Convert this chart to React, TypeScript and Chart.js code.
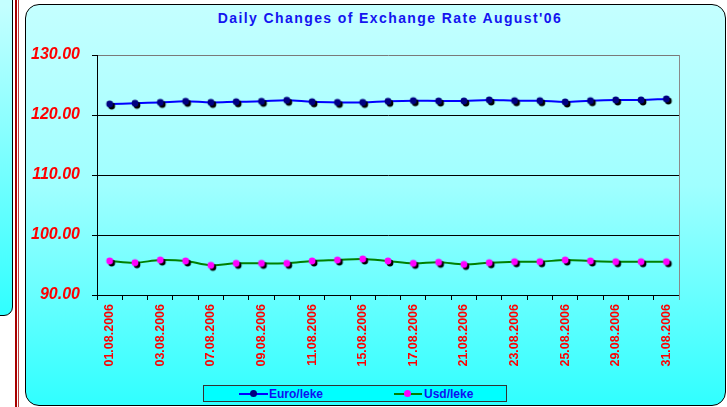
import React, { useEffect, useRef } from "react";
import { Chart, registerables } from "chart.js";

Chart.register(...registerables);

const dates = [
  "01.08.2006", "02.08.2006", "03.08.2006", "04.08.2006", "07.08.2006", "08.08.2006",
  "09.08.2006", "10.08.2006", "11.08.2006", "14.08.2006", "15.08.2006", "16.08.2006",
  "17.08.2006", "18.08.2006", "21.08.2006", "22.08.2006", "23.08.2006", "24.08.2006",
  "25.08.2006", "28.08.2006", "29.08.2006", "30.08.2006", "31.08.2006",
];

const euroLeke = [
  121.83, 121.95, 122.1, 122.28, 122.1, 122.2, 122.28, 122.45, 122.2, 122.1, 122.1, 122.28,
  122.38, 122.33, 122.33, 122.5, 122.38, 122.38, 122.17, 122.38, 122.5, 122.5, 122.67,
];

const usdLeke = [
  95.67, 95.38, 95.83, 95.67, 94.94, 95.28, 95.28, 95.28, 95.67, 95.83, 96.0, 95.67,
  95.28, 95.45, 95.1, 95.38, 95.55, 95.55, 95.83, 95.67, 95.55, 95.55, 95.55,
];

const yTicks = [90, 100, 110, 120, 130];

const TITLE = "Daily Changes of Exchange Rate August'06";
const FONT = '"Liberation Sans", Arial, sans-serif';

function makeMarker(color: string): HTMLCanvasElement {
  const c = document.createElement("canvas");
  c.width = 16;
  c.height = 16;
  const ctx = c.getContext("2d")!;
  ctx.fillStyle = "#000000";
  ctx.beginPath();
  ctx.arc(10, 10, 3.4, 0, Math.PI * 2);
  ctx.fill();
  ctx.fillStyle = color;
  ctx.beginPath();
  ctx.arc(8, 8, 3.4, 0, Math.PI * 2);
  ctx.fill();
  return c;
}

const borderPlugin = {
  id: "plotBorder",
  afterDraw(chart: any) {
    const { ctx, chartArea } = chart;
    ctx.save();
    ctx.strokeStyle = "#8a8a8a";
    ctx.lineWidth = 1;
    ctx.beginPath();
    ctx.moveTo(Math.round(chartArea.right) + 0.5, chartArea.top);
    ctx.lineTo(Math.round(chartArea.right) + 0.5, chartArea.bottom + 5);
    ctx.stroke();
    ctx.restore();
  },
};

export default function App() {
  const ref = useRef<HTMLCanvasElement | null>(null);

  useEffect(() => {
    document.body.style.margin = "0";
    const canvas = ref.current!;
    const chart = new Chart(canvas, {
      type: "line",
      data: {
        labels: dates,
        datasets: [
          {
            label: "Euro/leke",
            data: euroLeke,
            borderColor: "#0000ff",
            borderWidth: 2,
            tension: 0.35,
            pointStyle: makeMarker("#000080") as any,
            pointRadius: 4,
          },
          {
            label: "Usd/leke",
            data: usdLeke,
            borderColor: "#008000",
            borderWidth: 2,
            tension: 0.35,
            pointStyle: makeMarker("#ff00ff") as any,
            pointRadius: 4,
          },
        ],
      },
      options: {
        animation: false,
        responsive: false,
        devicePixelRatio: 1,
        layout: { padding: { left: 0, right: 48, top: 55, bottom: 0 } },
        plugins: {
          legend: { display: false },
          title: { display: false },
          tooltip: { enabled: false },
        },
        scales: {
          x: {
            offset: true,
            grid: {
              offset: true,
              drawOnChartArea: false,
              drawTicks: true,
              tickLength: 5,
              color: "#000",
              tickColor: "#000",
            },
            border: { color: "#000", width: 1 },
            ticks: {
              autoSkip: false,
              maxRotation: 90,
              minRotation: 90,
              padding: 4,
              color: "#ff0000",
              font: { family: FONT, size: 12.5, weight: "bold" },
              callback: (_v: any, i: number) => (i % 2 === 0 ? dates[i] : ""),
            },
            afterFit: (s: any) => {
              s.height = 112;
            },
          },
          y: {
            min: yTicks[0],
            max: yTicks[yTicks.length - 1],
            afterBuildTicks: (s: any) => {
              s.ticks = yTicks.map((v) => ({ value: v }));
            },
            ticks: {
              stepSize: 10,
              padding: 12,
              color: "#ff0000",
              font: { family: FONT, size: 16, style: "italic", weight: "bold" },
              callback: (v: any) => Number(v).toFixed(2),
            },
            grid: {
              color: (c: any) => (c.tick && c.tick.value === 130 ? "#7a7a7a" : "#000"),
              tickLength: 5,
              tickColor: "#000",
            },
            border: { color: "#000", width: 1 },
            afterFit: (s: any) => {
              s.width = 97;
            },
          },
        },
      } as any,
      plugins: [borderPlugin],
    });
    return () => chart.destroy();
  }, []);

  const legendText: React.CSSProperties = {
    position: "absolute",
    top: 1,
    fontFamily: FONT,
    fontWeight: "bold",
    fontSize: 12,
    lineHeight: "14px",
    color: "#1010f0",
    whiteSpace: "nowrap",
  };

  return (
    <div style={{ position: "relative", width: 727, height: 407, overflow: "hidden", background: "#fff" }}>
      {/* left panel */}
      <div
        style={{
          position: "absolute",
          left: -30,
          top: -30,
          width: 42.5,
          height: 346,
          boxSizing: "border-box",
          border: "1.5px solid #000",
          borderRadius: 9,
          background: "linear-gradient(#c4ffff 10%, #30ffff 100%)",
        }}
      />
      {/* red rules */}
      <div style={{ position: "absolute", left: 15, top: 0, width: 2, height: 407, background: "#a80000" }} />
      <div style={{ position: "absolute", left: 18, top: 0, width: 1, height: 407, background: "#b84040" }} />
      {/* chart frame */}
      <div
        style={{
          position: "absolute",
          left: 25,
          top: 4,
          width: 701,
          height: 402,
          boxSizing: "border-box",
          border: "1.5px solid #000",
          borderRadius: 14,
          background: "linear-gradient(#c4ffff 0%, #a0ffff 45%, #30ffff 100%)",
        }}
      />
      <div
        style={{
          position: "absolute",
          left: 0,
          width: 780,
          top: 10,
          textAlign: "center",
          fontFamily: FONT,
          fontWeight: "bold",
          fontSize: 14,
          lineHeight: "16px",
          letterSpacing: "1.4px",
          color: "#1414f0",
          whiteSpace: "nowrap",
        }}
      >
        {TITLE}
      </div>
      <canvas ref={ref} width={727} height={407} style={{ position: "absolute", left: 0, top: 0, width: 727, height: 407 }} />
      {/* legend */}
      <div
        style={{
          position: "absolute",
          left: 203,
          top: 385,
          width: 304,
          height: 17,
          boxSizing: "border-box",
          border: "1px solid #333",
          background: "#00ffff",
        }}
      >
        <div style={{ position: "absolute", left: 35, top: 6.5, width: 29, height: 2, background: "#0000ff" }} />
        <div style={{ position: "absolute", left: 45.5, top: 4, width: 7, height: 7, borderRadius: "50%", background: "#000080" }} />
        <span style={{ ...legendText, left: 65 }}>Euro/leke</span>
        <div style={{ position: "absolute", left: 190, top: 6.5, width: 28, height: 2, background: "#008000" }} />
        <div style={{ position: "absolute", left: 199.5, top: 4, width: 7, height: 7, borderRadius: "50%", background: "#ff00ff" }} />
        <span style={{ ...legendText, left: 220 }}>Usd/leke</span>
      </div>
    </div>
  );
}
